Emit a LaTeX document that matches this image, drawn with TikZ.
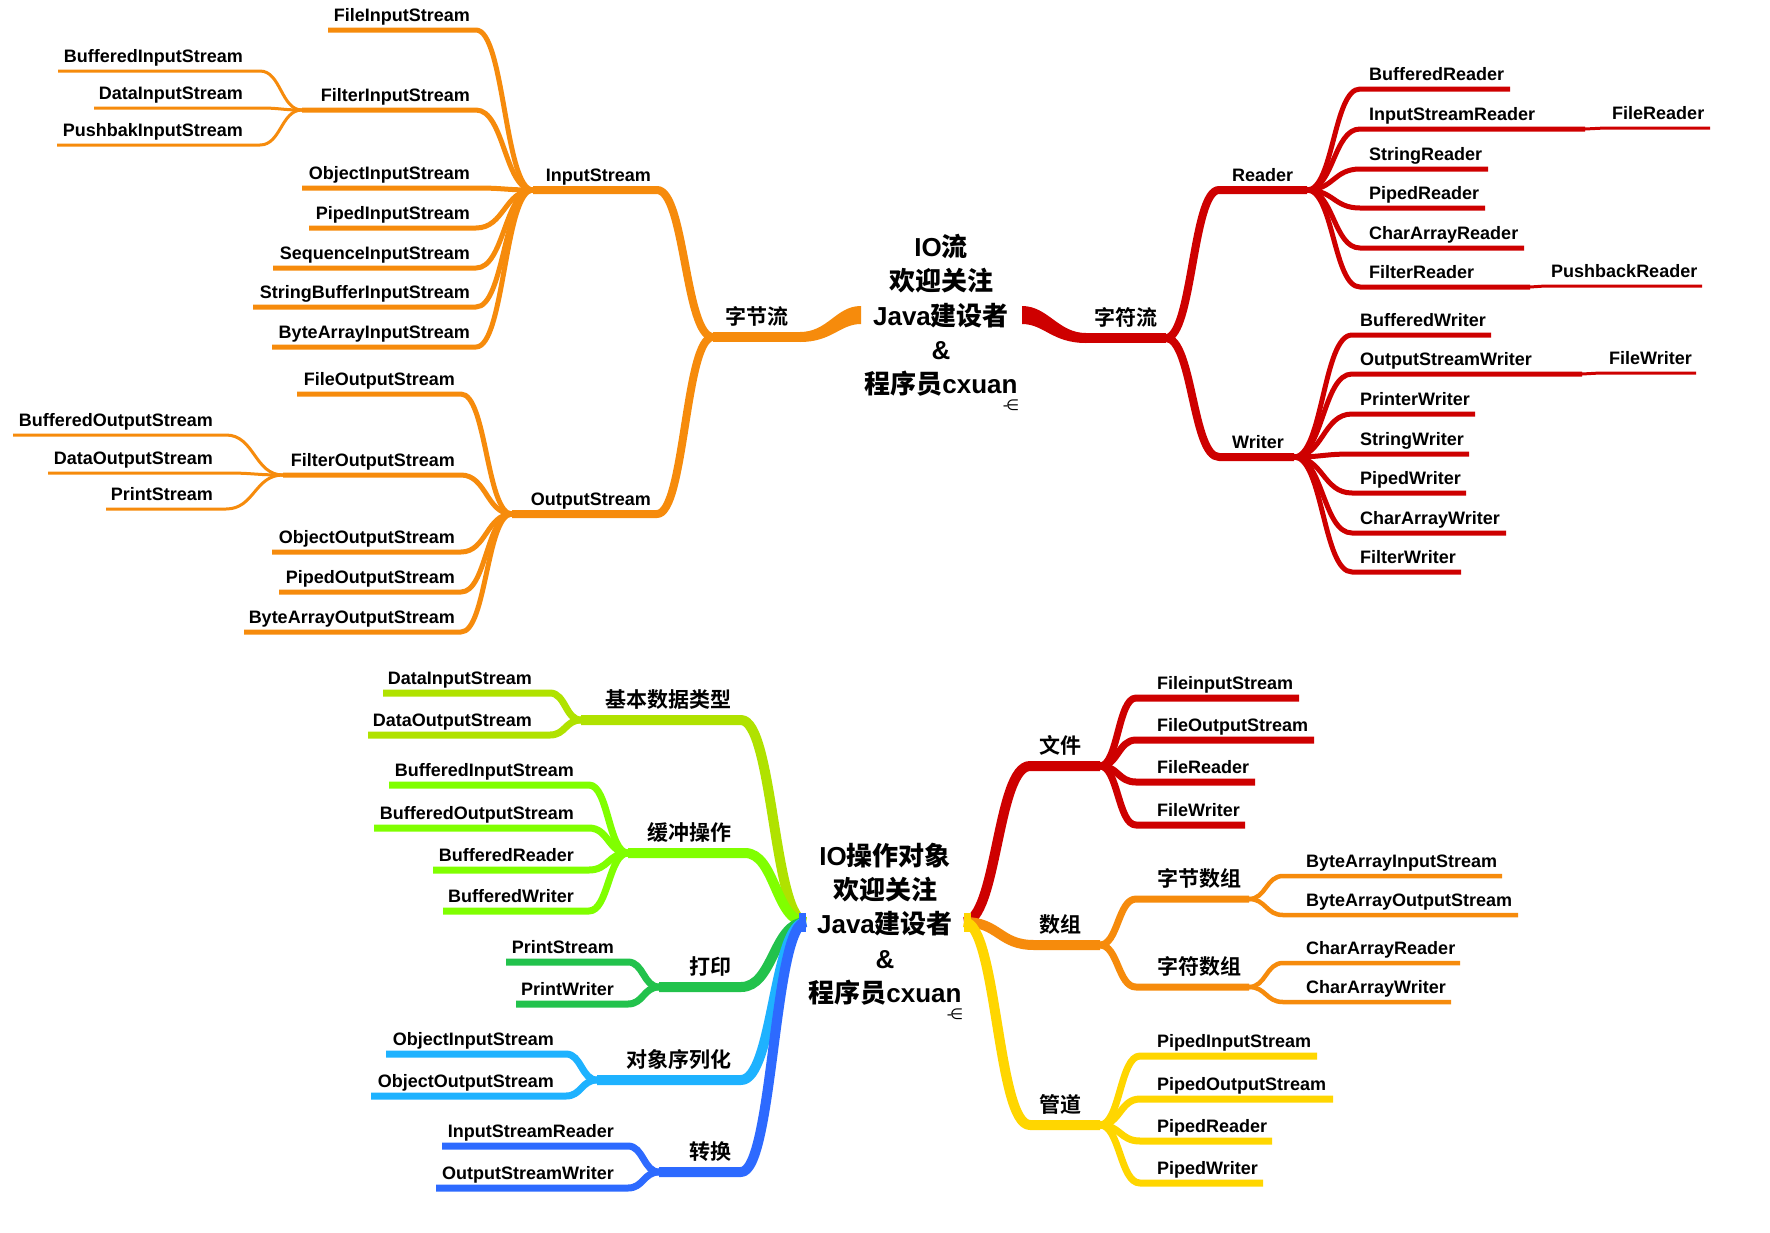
\documentclass[tikz,border=0pt]{standalone}
\usepackage{fontspec}
\setmainfont{Liberation Sans}
\newfontfamily\cjk{Noto Sans CJK SC Bold}
\newfontfamily\djv{DejaVu Sans}
\usetikzlibrary{calc}
\definecolor{cO}{RGB}{246,139,12}
\definecolor{cR}{RGB}{206,0,0}
\definecolor{cYG}{RGB}{176,226,0}
\definecolor{cLime}{RGB}{128,255,0}
\definecolor{cG}{RGB}{34,194,76}
\definecolor{cSky}{RGB}{30,178,255}
\definecolor{cB}{RGB}{45,106,255}
\definecolor{cY}{RGB}{255,214,0}
\newcommand\labfont{\fontsize{18}{20}\selectfont\bfseries}
\newcommand\zhfont{\fontsize{21}{24}\selectfont\cjk}
\tikzset{
  lblL/.style={font=\labfont, anchor=base east, inner sep=0pt, yshift=8.5pt},
  lblR/.style={font=\labfont, anchor=base west, inner sep=0pt, yshift=8.5pt},
  zhL/.style={font=\zhfont, anchor=base east, inner sep=0pt, yshift=12.5pt},
  zhR/.style={font=\zhfont, anchor=base west, inner sep=0pt, yshift=12.5pt},
  rootlbl/.style={font=\fontsize{26}{34.3}\selectfont\bfseries, align=center, inner sep=0pt},
  iconlbl/.style={font=\fontsize{15}{16}\selectfont\djv, inner sep=0pt},
}
% #1 style, #2 parent, #3 child near end, #4 child far end
\newcommand\mmbranch[4]{%
  \coordinate (mid) at ($(#2)!0.5!(#3)$);
  \draw[#1] (#2) .. controls (mid |- #2) and (mid |- #3) .. (#3) -- (#4);
}
% #1 name, #2 parent, #3 style, #4 near x, #5 far x, #6 y, #7 label style, #8 label x, #9 text
\newcommand\mmleaf[9]{%
  \coordinate (#1c) at (#4,#6);
  \coordinate (#1) at (#5,#6);
  \mmbranch{#3}{#2}{#1c}{#1}
  \node[#7] (#1t) at (#8,#6) {#9};
}
\begin{document}
\begin{tikzpicture}[x=1pt,y=-1pt,line join=round]
\fill[white] (0,0) rectangle (1770,1232);
\useasboundingbox (0,0) rectangle (1770,1232);

% ================= TOP: IO流 =================
\node[rootlbl] (root1) at (941,315.5) {IO{\cjk 流}\\{\cjk 欢迎关注}\\Java{\cjk 建设者}\\\&\\{\cjk 程序员}cxuan};
\node[iconlbl] (icon1) at (1011,405) {-\kern-2pt∈};

% left: 字节流
\fill[cO] (861,306) .. controls (836,306) and (828,332) .. (800,332) -- (800,342) .. controls (832,342) and (840,324) .. (861,324) -- cycle;
\coordinate (a0) at (806,337);
\coordinate (a1) at (713,337);
\draw[cO,line width=10] (a0) -- (a1);
\node[zhL] (zjl) at (789,337) {字节流};

\mmleaf{IS}{a1}{cO,line width=8}{657}{533}{190}{lblL}{651}{InputStream}
\mmleaf{OS}{a1}{cO,line width=8}{657}{512}{514}{lblL}{651}{OutputStream}

\mmleaf{fis}{IS}{cO,line width=5}{476}{328}{30}{lblL}{470}{FileInputStream}
\mmleaf{filis}{IS}{cO,line width=5}{476}{302}{110}{lblL}{470}{FilterInputStream}
\mmleaf{obis}{IS}{cO,line width=5}{476}{302}{188}{lblL}{470}{ObjectInputStream}
\mmleaf{pis}{IS}{cO,line width=5}{476}{309}{228}{lblL}{470}{PipedInputStream}
\mmleaf{sis}{IS}{cO,line width=5}{476}{273}{268}{lblL}{470}{SequenceInputStream}
\mmleaf{sbis}{IS}{cO,line width=5}{476}{253}{307}{lblL}{470}{StringBufferInputStream}
\mmleaf{bais}{IS}{cO,line width=5}{476}{272}{347}{lblL}{470}{ByteArrayInputStream}

\mmleaf{bis}{filis}{cO,line width=3}{260}{58}{71}{lblL}{243}{BufferedInputStream}
\mmleaf{dis}{filis}{cO,line width=3}{260}{94}{108}{lblL}{243}{DataInputStream}
\mmleaf{pbis}{filis}{cO,line width=3}{260}{57}{145}{lblL}{243}{PushbakInputStream}

\mmleaf{fos}{OS}{cO,line width=5}{461}{297}{394}{lblL}{455}{FileOutputStream}
\mmleaf{filos}{OS}{cO,line width=5}{461}{283}{475}{lblL}{455}{FilterOutputStream}
\mmleaf{obos}{OS}{cO,line width=5}{461}{272}{552}{lblL}{455}{ObjectOutputStream}
\mmleaf{pos}{OS}{cO,line width=5}{461}{279}{592}{lblL}{455}{PipedOutputStream}
\mmleaf{baos}{OS}{cO,line width=5}{461}{244}{632}{lblL}{455}{ByteArrayOutputStream}

\mmleaf{bos}{filos}{cO,line width=3}{226}{13}{435}{lblL}{213}{BufferedOutputStream}
\mmleaf{dos}{filos}{cO,line width=3}{226}{48}{473}{lblL}{213}{DataOutputStream}
\mmleaf{ps}{filos}{cO,line width=3}{226}{106}{509}{lblL}{213}{PrintStream}

% right: 字符流
\fill[cR] (1022,306) .. controls (1048,306) and (1058,333) .. (1086,333) -- (1086,343) .. controls (1052,343) and (1044,324) .. (1022,324) -- cycle;
\coordinate (b0) at (1080,338);
\coordinate (b1) at (1166,338);
\draw[cR,line width=10] (b0) -- (b1);
\node[zhR] (zfl) at (1094,338) {字符流};

\mmleaf{RD}{b1}{cR,line width=8}{1219}{1307}{190}{lblR}{1232}{Reader}
\mmleaf{WR}{b1}{cR,line width=8}{1219}{1294}{457}{lblR}{1232}{Writer}

\mmleaf{bfr}{RD}{cR,line width=5}{1360}{1510}{89}{lblR}{1369}{BufferedReader}
\mmleaf{isr}{RD}{cR,line width=5}{1360}{1585}{129}{lblR}{1369}{InputStreamReader}
\mmleaf{str}{RD}{cR,line width=5}{1360}{1488}{169}{lblR}{1369}{StringReader}
\mmleaf{pdr}{RD}{cR,line width=5}{1360}{1485}{208}{lblR}{1369}{PipedReader}
\mmleaf{car}{RD}{cR,line width=5}{1360}{1524}{248}{lblR}{1369}{CharArrayReader}
\mmleaf{flr}{RD}{cR,line width=5}{1360}{1530}{287}{lblR}{1369}{FilterReader}
\mmleaf{flrd}{isr}{cR,line width=3}{1605}{1710}{128}{lblR}{1612}{FileReader}
\mmleaf{pbr}{flr}{cR,line width=3}{1545}{1702}{286}{lblR}{1551}{PushbackReader}

\mmleaf{bfw}{WR}{cR,line width=5}{1352}{1491}{335}{lblR}{1360}{BufferedWriter}
\mmleaf{osw}{WR}{cR,line width=5}{1352}{1582}{374}{lblR}{1360}{OutputStreamWriter}
\mmleaf{ptw}{WR}{cR,line width=5}{1352}{1475}{414}{lblR}{1360}{PrinterWriter}
\mmleaf{stw}{WR}{cR,line width=5}{1352}{1469}{454}{lblR}{1360}{StringWriter}
\mmleaf{pdw}{WR}{cR,line width=5}{1352}{1466}{493}{lblR}{1360}{PipedWriter}
\mmleaf{caw}{WR}{cR,line width=5}{1352}{1506}{533}{lblR}{1360}{CharArrayWriter}
\mmleaf{flw}{WR}{cR,line width=5}{1352}{1461}{572}{lblR}{1360}{FilterWriter}
\mmleaf{flwr}{osw}{cR,line width=3}{1600}{1696}{373}{lblR}{1609}{FileWriter}

% ================= BOTTOM: IO操作对象 =================
\node[rootlbl] (root2) at (885,924) {IO{\cjk 操作对象}\\{\cjk 欢迎关注}\\Java{\cjk 建设者}\\\&\\{\cjk 程序员}cxuan};
\node[iconlbl] (icon2) at (955,1014) {-\kern-2pt∈};
\coordinate (RL) at (806,922);
\coordinate (RR) at (964,922);

% left side
\mmleaf{jb}{RL}{cYG,line width=10}{741}{581}{720}{zhL}{732}{基本数据类型}
\mmleaf{dis2}{jb}{cYG,line width=7}{550}{383}{693}{lblL}{532}{DataInputStream}
\mmleaf{dos2}{jb}{cYG,line width=7}{550}{368}{735}{lblL}{532}{DataOutputStream}

\mmleaf{hc}{RL}{cLime,line width=10}{745}{628}{853}{zhL}{732}{缓冲操作}
\mmleaf{bis2}{hc}{cLime,line width=7}{589}{389}{785}{lblL}{574}{BufferedInputStream}
\mmleaf{bos2}{hc}{cLime,line width=7}{589}{374}{828}{lblL}{574}{BufferedOutputStream}
\mmleaf{brd2}{hc}{cLime,line width=7}{589}{433}{870}{lblL}{574}{BufferedReader}
\mmleaf{bwr2}{hc}{cLime,line width=7}{589}{443}{911}{lblL}{574}{BufferedWriter}

\mmleaf{dy}{RL}{cG,line width=10}{741}{659}{987}{zhL}{732}{打印}
\mmleaf{ps2}{dy}{cG,line width=7}{628}{506}{962}{lblL}{614}{PrintStream}
\mmleaf{pwr2}{dy}{cG,line width=7}{628}{516}{1004}{lblL}{614}{PrintWriter}

\mmleaf{dx}{RL}{cSky,line width=10}{741}{597}{1080}{zhL}{732}{对象序列化}
\mmleaf{ois2}{dx}{cSky,line width=7}{566}{386}{1054}{lblL}{554}{ObjectInputStream}
\mmleaf{oos2}{dx}{cSky,line width=7}{566}{371}{1096}{lblL}{554}{ObjectOutputStream}

\mmleaf{zh}{RL}{cB,line width=10}{741}{659}{1172}{zhL}{732}{转换}
\mmleaf{isr2}{zh}{cB,line width=7}{628}{442}{1146}{lblL}{614}{InputStreamReader}
\mmleaf{osw2}{zh}{cB,line width=7}{628}{436}{1188}{lblL}{614}{OutputStreamWriter}
\fill[cB] (799,913) rectangle (806,932);

% right side
\mmleaf{wj}{RR}{cR,line width=10}{1030}{1100}{766}{zhR}{1039}{文件}
\mmleaf{fis3}{wj}{cR,line width=7}{1136}{1299}{698}{lblR}{1157}{FileinputStream}
\mmleaf{fos3}{wj}{cR,line width=7}{1136}{1314}{740}{lblR}{1157}{FileOutputStream}
\mmleaf{frd3}{wj}{cR,line width=7}{1136}{1255}{782}{lblR}{1157}{FileReader}
\mmleaf{fwr3}{wj}{cR,line width=7}{1136}{1245}{825}{lblR}{1157}{FileWriter}

\mmleaf{sz}{RR}{cO,line width=10}{1034}{1100}{945}{zhR}{1039}{数组}
\mmleaf{zjsz}{sz}{cO,line width=7}{1136}{1249}{899}{zhR}{1157}{字节数组}
\mmleaf{zfsz}{sz}{cO,line width=7}{1136}{1249}{987}{zhR}{1157}{字符数组}
\mmleaf{bais3}{zjsz}{cO,line width=4.5}{1283}{1502}{876}{lblR}{1306}{ByteArrayInputStream}
\mmleaf{baos3}{zjsz}{cO,line width=4.5}{1283}{1518}{915}{lblR}{1306}{ByteArrayOutputStream}
\mmleaf{car3}{zfsz}{cO,line width=4.5}{1283}{1460}{963}{lblR}{1306}{CharArrayReader}
\mmleaf{caw3}{zfsz}{cO,line width=4.5}{1283}{1451}{1002}{lblR}{1306}{CharArrayWriter}

\mmleaf{gd}{RR}{cY,line width=10}{1030}{1100}{1125}{zhR}{1039}{管道}
\mmleaf{pis3}{gd}{cY,line width=7}{1140}{1317}{1056}{lblR}{1157}{PipedInputStream}
\mmleaf{pos3}{gd}{cY,line width=7}{1140}{1333}{1099}{lblR}{1157}{PipedOutputStream}
\mmleaf{prd3}{gd}{cY,line width=7}{1140}{1272}{1141}{lblR}{1157}{PipedReader}
\mmleaf{pwr3}{gd}{cY,line width=7}{1140}{1263}{1183}{lblR}{1157}{PipedWriter}
\fill[cY] (964,913) rectangle (971,932);
\end{tikzpicture}
\end{document}
